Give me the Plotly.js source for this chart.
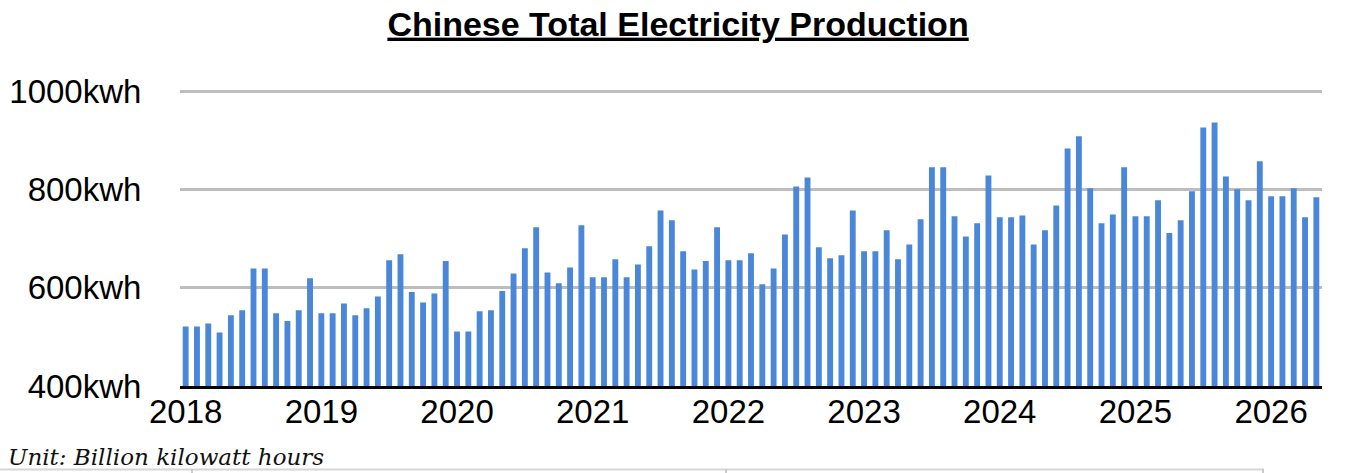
<!DOCTYPE html>
<html>
<head>
<meta charset="utf-8">
<script src="https://cdn.plot.ly/plotly-3.0.1.min.js"></script>
<style>html,body{margin:0;padding:0;background:#fff;}#chart{width:1348px;height:473px;}</style>
</head>
<body>
<div id="chart"></div>
<script>
// Monthly categories Jan 2018 .. May 2026
const months = [];
for (let y = 2018; y <= 2026; y++) {
  for (let m = 1; m <= 12; m++) {
    if (y === 2026 && m > 5) break;
    months.push(y + '-' + String(m).padStart(2, '0'));
  }
}
// Production (billion kWh)
const values2018 = [521, 521, 527, 509, 544, 554, 639, 639, 548, 532, 554, 619];
const values2019 = [548, 548, 568, 544, 558, 582, 656, 668, 591, 570, 588, 654];
const values2020 = [511, 511, 552, 554, 593, 629, 680, 723, 631, 609, 641, 727];
const values2021 = [621, 621, 658, 621, 647, 684, 757, 737, 674, 637, 654, 723];
const values2022 = [656, 656, 670, 607, 639, 708, 806, 824, 682, 660, 666, 757];
const values2023 = [674, 674, 717, 658, 688, 739, 845, 845, 745, 704, 731, 828];
const values2024 = [743, 743, 747, 688, 717, 767, 883, 908, 802, 731, 749, 845];
const values2025 = [745, 745, 778, 711, 737, 796, 926, 936, 826, 800, 778, 857];
const values2026 = [786, 786, 802, 743, 784];
const production = [].concat(values2018, values2019, values2020, values2021, values2022,
  values2023, values2024, values2025, values2026);

const yearTickVals = ['2018-01','2019-01','2020-01','2021-01','2022-01','2023-01','2024-01','2025-01','2026-01'];
const yearTickText = ['2018','2019','2020','2021','2022','2023','2024','2025','2026'];
const yTickVals = [400, 600, 800, 1000];
const yTickText = ['400kwh', '600kwh', '800kwh', '1000kwh'];

const FONT = 'Liberation Sans, Arial, Helvetica, sans-serif';

const trace = {
  type: 'bar',
  x: months,
  y: production,
  width: 0.52,
  marker: {color: '#4a87d8'},
  hoverinfo: 'x+y'
};

// pixel -> paper helpers for decorations outside the plot
const L = 180, R = 26, T = 85, B = 87, W = 1348, H = 473;
const pw = W - L - R, ph = H - T - B;
const px = v => (v - L) / pw;
const py = v => (H - B - v) / ph;

const layout = {
  width: W, height: H,
  margin: {l: L, r: R, t: T, b: B, pad: 0},
  paper_bgcolor: '#fff',
  plot_bgcolor: '#fff',
  showlegend: false,
  title: {
    text: '<b>Chinese Total Electricity Production</b>',
    font: {family: FONT, size: 34, color: '#000', lineposition: 'under'},
    x: 0.503, xref: 'container', xanchor: 'center',
    y: 0.975, yref: 'container', yanchor: 'top'
  },
  xaxis: {
    type: 'category',
    range: [-0.5, 100.5],
    tickvals: yearTickVals,
    ticktext: yearTickText,
    tickfont: {family: FONT, size: 33, color: '#000'},
    showgrid: false,
    showline: true, linecolor: '#000', linewidth: 3,
    ticks: '', ticklabelstandoff: -6,
    fixedrange: true
  },
  yaxis: {
    range: [400, 1012.2],
    tickvals: yTickVals,
    ticktext: yTickText,
    tickfont: {family: FONT, size: 33, color: '#000'},
    showgrid: true, gridcolor: '#bdbdbd', gridwidth: 3,
    zeroline: false, showline: false,
    ticks: 'outside', ticklen: 31, tickcolor: 'rgba(0,0,0,0)',
    fixedrange: true
  },
  annotations: [{
    text: '<i>Unit: Billion kilowatt hours</i>',
    xref: 'paper', yref: 'paper',
    x: px(6), y: py(457), xanchor: 'left', yanchor: 'middle',
    showarrow: false,
    font: {family: 'DejaVu Serif, Georgia, serif', size: 23, color: '#111'}
  }],
  shapes: [
    {type: 'line', xref: 'paper', yref: 'paper', x0: px(0), x1: px(1264), y0: py(469.5), y1: py(469.5),
     line: {color: '#d6d6d6', width: 2}},
    {type: 'line', xref: 'paper', yref: 'paper', x0: px(192), x1: px(192), y0: py(469.5), y1: py(473),
     line: {color: '#bbbbbb', width: 1.5}},
    {type: 'line', xref: 'paper', yref: 'paper', x0: px(726), x1: px(726), y0: py(469.5), y1: py(473),
     line: {color: '#bbbbbb', width: 1.5}},
    {type: 'line', xref: 'paper', yref: 'paper', x0: px(1263), x1: px(1263), y0: py(469.5), y1: py(473),
     line: {color: '#bbbbbb', width: 1.5}}
  ]
};

Plotly.newPlot('chart', [trace], layout, {displayModeBar: false, staticPlot: true});
</script>
</body>
</html>
